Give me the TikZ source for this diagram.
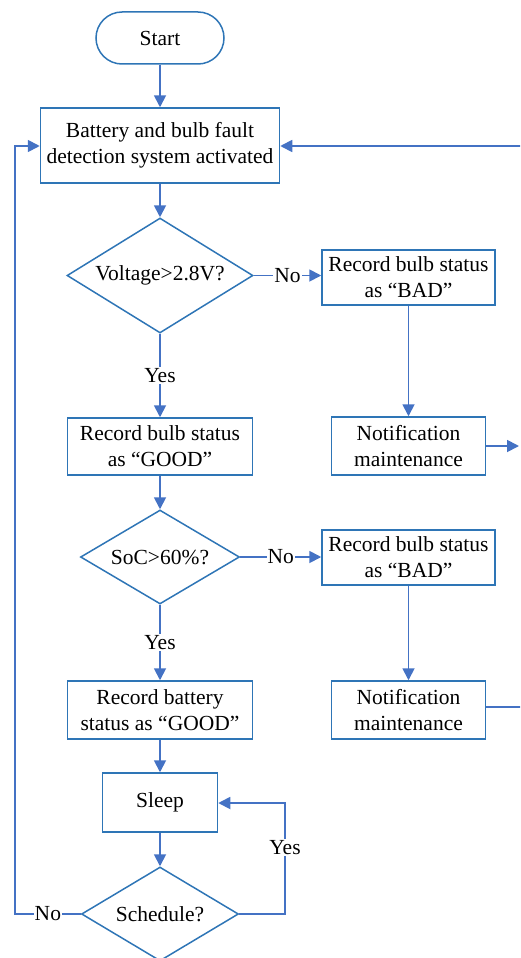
\documentclass[tikz,border=0pt]{standalone}
\usepackage{fontspec}
\setmainfont{Liberation Serif}
\newfontfamily\tnr{Liberation Serif}
\usetikzlibrary{shapes.geometric,arrows.meta}
\definecolor{lnc}{HTML}{4472C4}
\definecolor{bdc}{HTML}{2E75B6}
\begin{document}
\begin{tikzpicture}[x=1pt,y=-1pt,
 font=\tnr\fontsize{21.5}{26}\selectfont,
 box/.style={draw=bdc, line width=1.5pt, rectangle, align=center, inner sep=0pt},
 dia/.style={draw=bdc, line width=1.5pt, diamond, align=center, inner sep=0pt},
 arr/.style={draw=lnc, line width=1.8pt, -{Triangle[width=12pt,length=12pt]}},
 lnn/.style={draw=lnc, line width=1.8pt},
 lbl/.style={fill=white, inner sep=1pt}]
\useasboundingbox (0,0) rectangle (520,958);
\clip (0,0) rectangle (520,958);

\node[box, rounded corners=26pt, minimum width=128pt, minimum height=52pt] (start) at (160,38) {Start};
\node[box, minimum width=239pt, minimum height=75pt] (act) at (160,145.5) {Battery and bulb fault\\detection system activated};
\node[dia, minimum width=186pt, minimum height=115pt, shape aspect=1.62] (volt) at (160,275.5) {Voltage>2.8V?};
\node[box, minimum width=173pt, minimum height=55pt] (bad1) at (408.5,277.5) {Record bulb status\\as “BAD”};
\node[box, minimum width=154pt, minimum height=58pt] (not1) at (408.5,446) {Notification\\maintenance};
\node[box, minimum width=185pt, minimum height=57pt] (good1) at (160,446.5) {Record bulb status\\as “GOOD”};
\node[dia, minimum width=159pt, minimum height=94pt, shape aspect=1.69] (soc) at (160,557) {SoC>60\%?};
\node[box, minimum width=173pt, minimum height=55pt] (bad2) at (408.5,557.5) {Record bulb status\\as “BAD”};
\node[box, minimum width=154pt, minimum height=58pt] (not2) at (408.5,710) {Notification\\maintenance};
\node[box, minimum width=185pt, minimum height=58pt] (good2) at (160,710) {Record battery\\status as “GOOD”};
\node[box, minimum width=115pt, minimum height=59pt] (sleep) at (160,802.5) {Sleep};
\node[dia, minimum width=157pt, minimum height=94pt, shape aspect=1.67] (sched) at (160,914) {Schedule?};

\coordinate (r1) at (530,146);
\coordinate (r2) at (519,446);
\coordinate (r3) at (530,707);
\coordinate (lx) at (15,914);
\coordinate (ly) at (15,146);
\coordinate (yx) at (285,914);
\coordinate (yy) at (285,803);

\draw[arr] (start) -- (act);
\draw[arr] (r1) -- (act.east |- r1);
\draw[arr] (act) -- (volt);
\draw[arr] (volt.east) -- node[lbl] {No} (bad1.west |- volt.east);
\draw[arr] (bad1) -- (not1);
\draw[arr] (not1.east) -- (r2);
\draw[arr] (volt.south) -- node[lbl] {Yes} (good1);
\draw[arr] (good1) -- (soc);
\draw[arr] (soc.east) -- node[lbl] {No} (bad2.west |- soc.east);
\draw[arr] (bad2) -- (not2);
\draw[lnn] (not2.east |- r3) -- (r3);
\draw[arr] (soc.south) -- node[lbl] {Yes} (good2);
\draw[arr] (good2) -- (sleep);
\draw[arr] (sleep) -- (sched);
\draw[arr] (sched.east) -- (yx) -- node[lbl, pos=0.6] {Yes} (yy) -- (sleep.east |- yy);
\draw[arr] (sched.west) -- node[lbl] {No} (lx) -- (ly) -- (act.west |- ly);
\end{tikzpicture}
\end{document}
